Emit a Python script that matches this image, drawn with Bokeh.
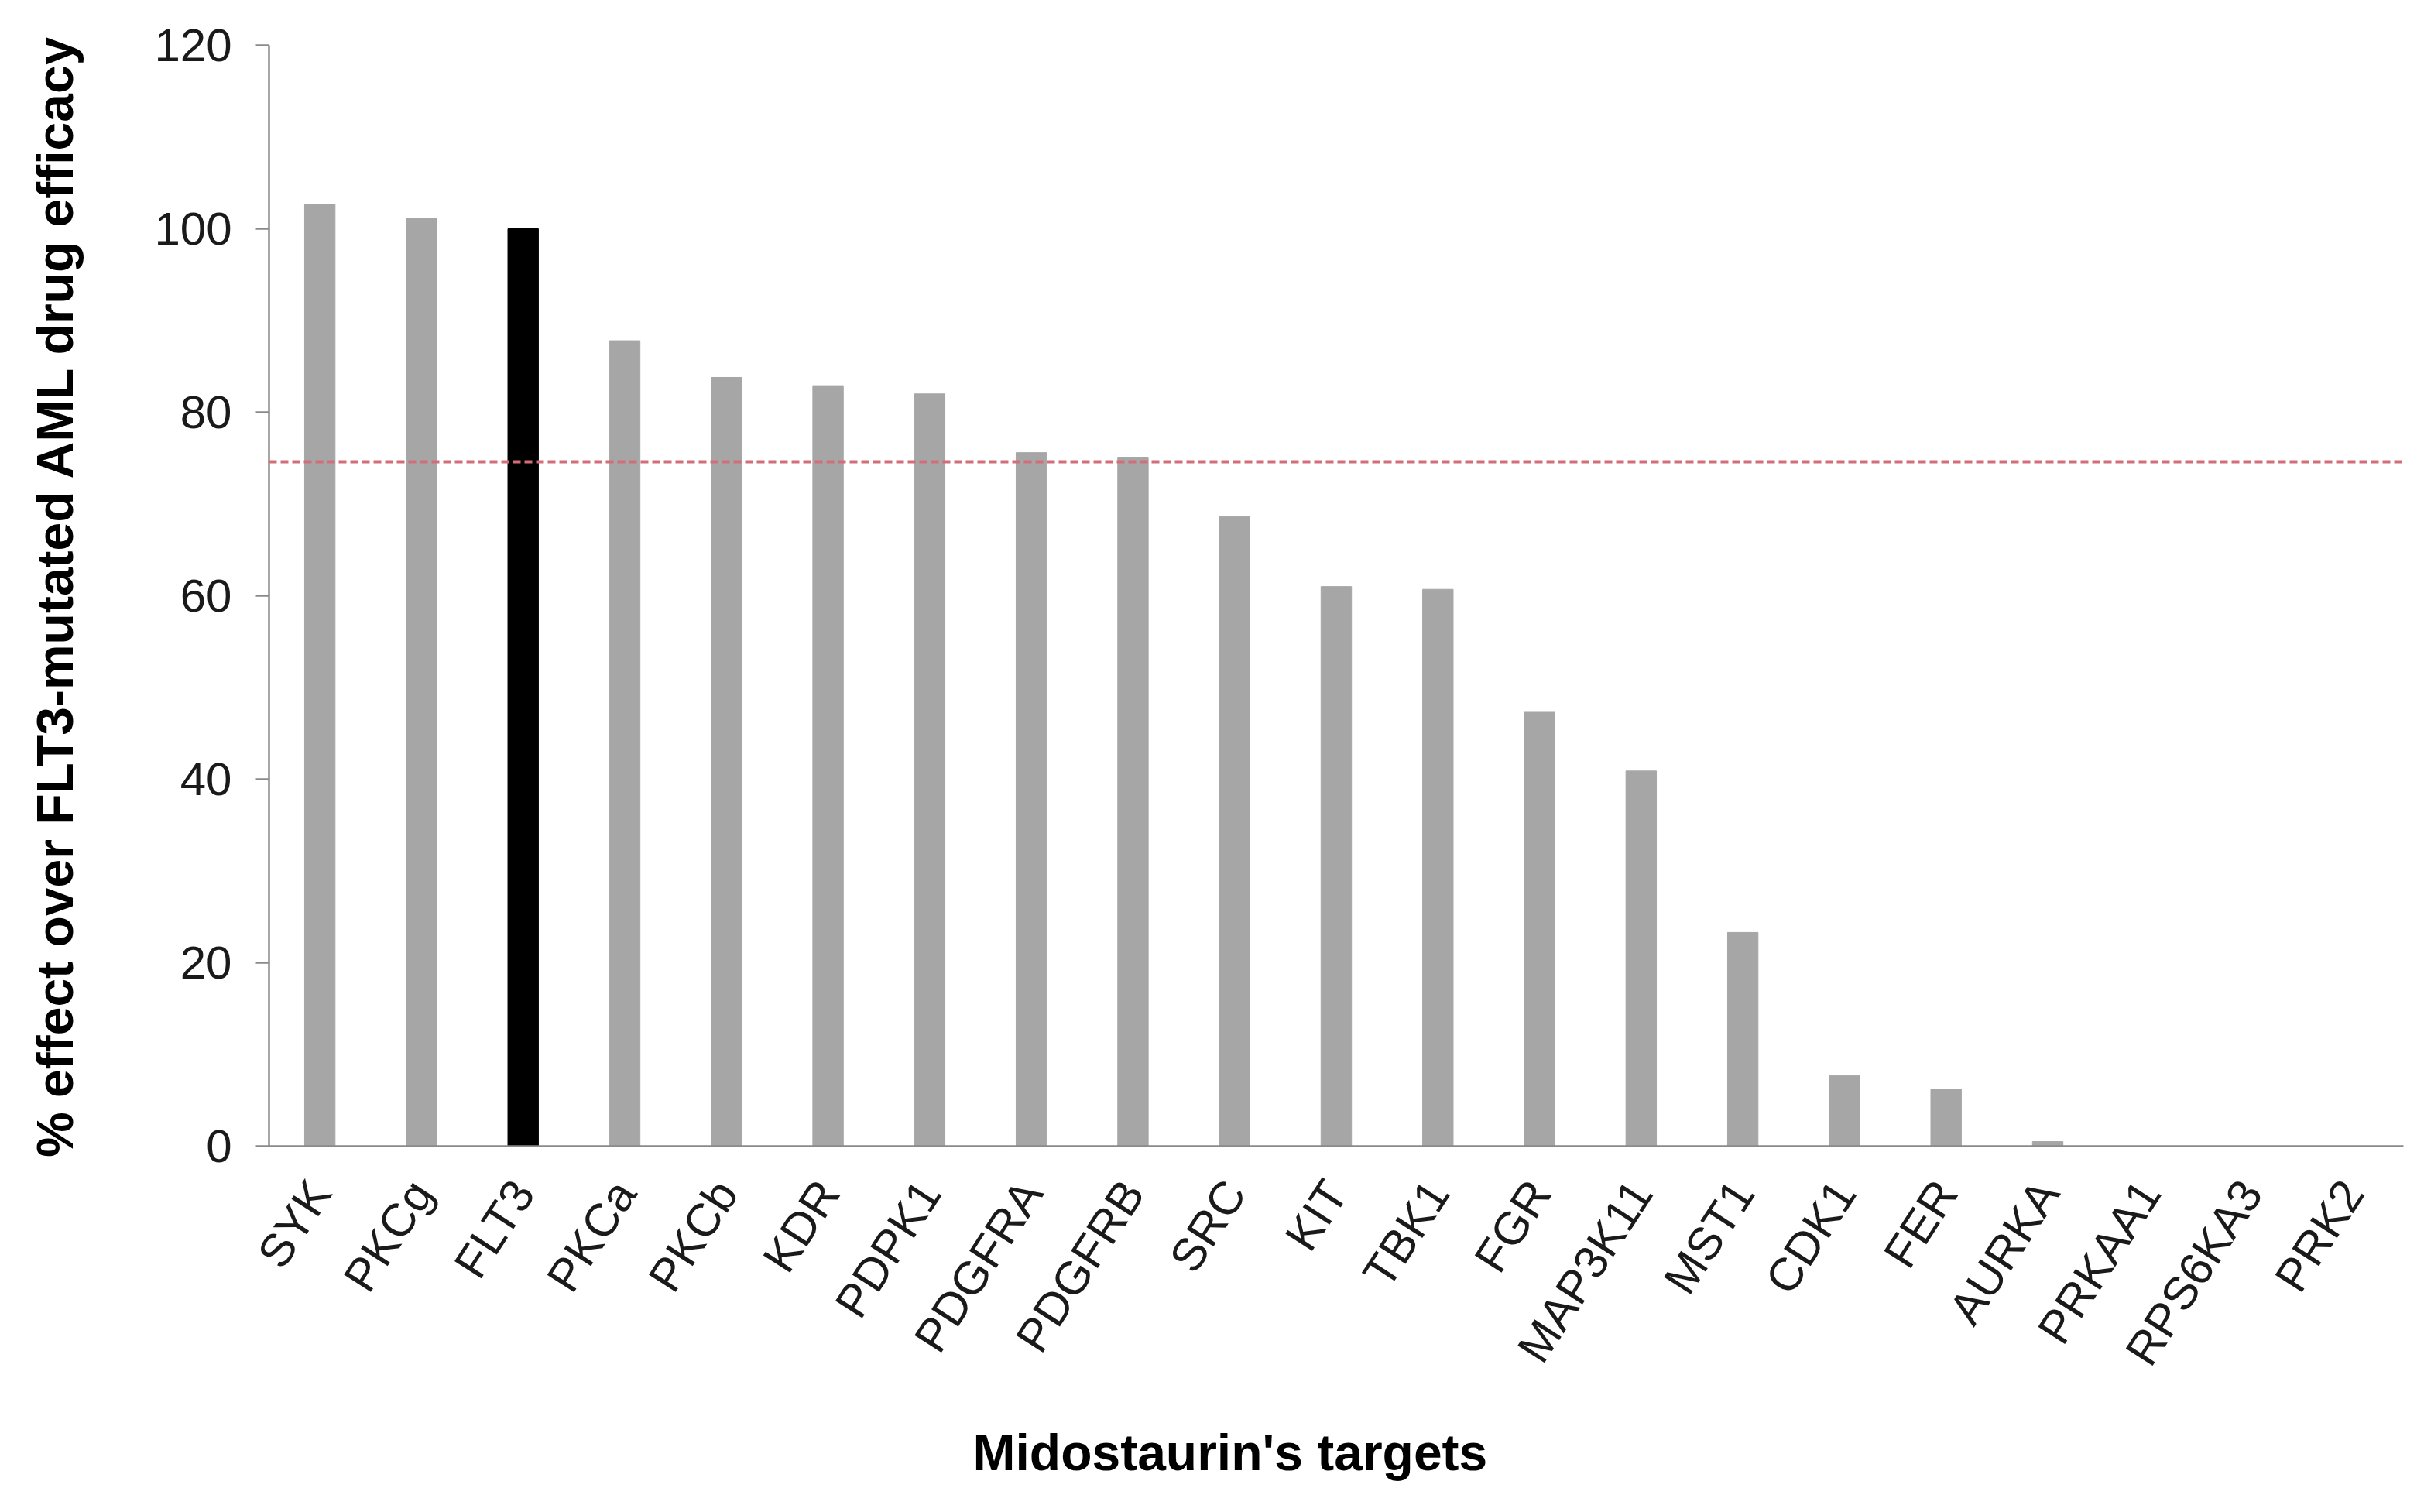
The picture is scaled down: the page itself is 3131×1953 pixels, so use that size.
import math
from bokeh.plotting import figure
from bokeh.models import FactorRange, Range1d, FixedTicker, Span, ColumnDataSource, Title
from bokeh.embed import file_html
from bokeh.resources import INLINE

# ---- data ----
categories = ["SYK", "PKCg", "FLT3", "PKCa", "PKCb", "KDR", "PDPK1", "PDGFRA",
              "PDGFRB", "SRC", "KIT", "TBK1", "FGR", "MAP3K11", "MST1", "CDK1",
              "FER", "AURKA", "PRKAA1", "RPS6KA3", "PRK2"]
values = [102.7, 101.1, 100.0, 87.8, 83.8, 82.9, 82.0, 75.6,
          75.1, 68.6, 61.0, 60.7, 47.3, 40.9, 23.3, 7.7,
          6.2, 0.5, 0.0, 0.0, 0.0]
highlight = "FLT3"
threshold = 74.6
y_ticks = [0, 20, 40, 60, 80, 100, 120]
x_title = "Midostaurin's targets"
y_title = "% effect over FLT3-mutated AML drug efficacy"

GRAY = "#a6a6a6"
BLACK = "#000000"
colors = [BLACK if c == highlight else GRAY for c in categories]

src = ColumnDataSource(dict(cat=categories, val=values, color=colors))

p = figure(x_range=FactorRange(*categories), y_range=Range1d(0, 120),
           width=3110, height=1952, output_backend="svg", toolbar_location=None,
           min_border_left=347, min_border_right=6, min_border_top=58,
           min_border_bottom=470)

p.vbar(x="cat", top="val", width=0.3, color="color", source=src)

p.add_layout(Span(location=threshold, dimension="width", line_color="#d26e78",
                  line_dash="10 5", line_width=4))

FONT = "Liberation Sans"
p.outline_line_color = None
p.xgrid.grid_line_color = None
p.ygrid.grid_line_color = None
p.background_fill_color = "white"

for ax in (p.xaxis[0], p.yaxis[0]):
    ax.axis_line_color = "#8a8a8a"
    ax.axis_line_width = 2.5
    ax.major_label_text_font = FONT
    ax.major_label_text_font_size = "60px"
    ax.major_label_text_color = "#1a1a1a"
    ax.axis_label_text_font = FONT
    ax.axis_label_text_font_size = "66px"
    ax.axis_label_text_font_style = "bold"
    ax.axis_label_text_color = "#000000"

p.yaxis.ticker = FixedTicker(ticks=y_ticks)
p.yaxis.minor_tick_line_color = None
p.yaxis.major_tick_in = 0
p.yaxis.major_tick_out = 17
p.yaxis.major_tick_line_color = "#8a8a8a"
p.yaxis.major_tick_line_width = 2.5
p.yaxis.major_label_standoff = 31
p.yaxis.axis_label = y_title
p.yaxis.axis_label_standoff = 88

p.xaxis.major_tick_line_color = None
p.xaxis.major_tick_in = 0
p.xaxis.major_tick_out = 0
p.xaxis.major_label_orientation = math.radians(57)
p.xaxis.major_label_standoff = 50

p.add_layout(Title(text=x_title, align="left", offset=909, standoff=80,
                   text_font=FONT, text_font_size="66px", text_font_style="bold",
                   text_color="#000000"), "below")

open("out.html", "w").write(file_html(p, INLINE))
